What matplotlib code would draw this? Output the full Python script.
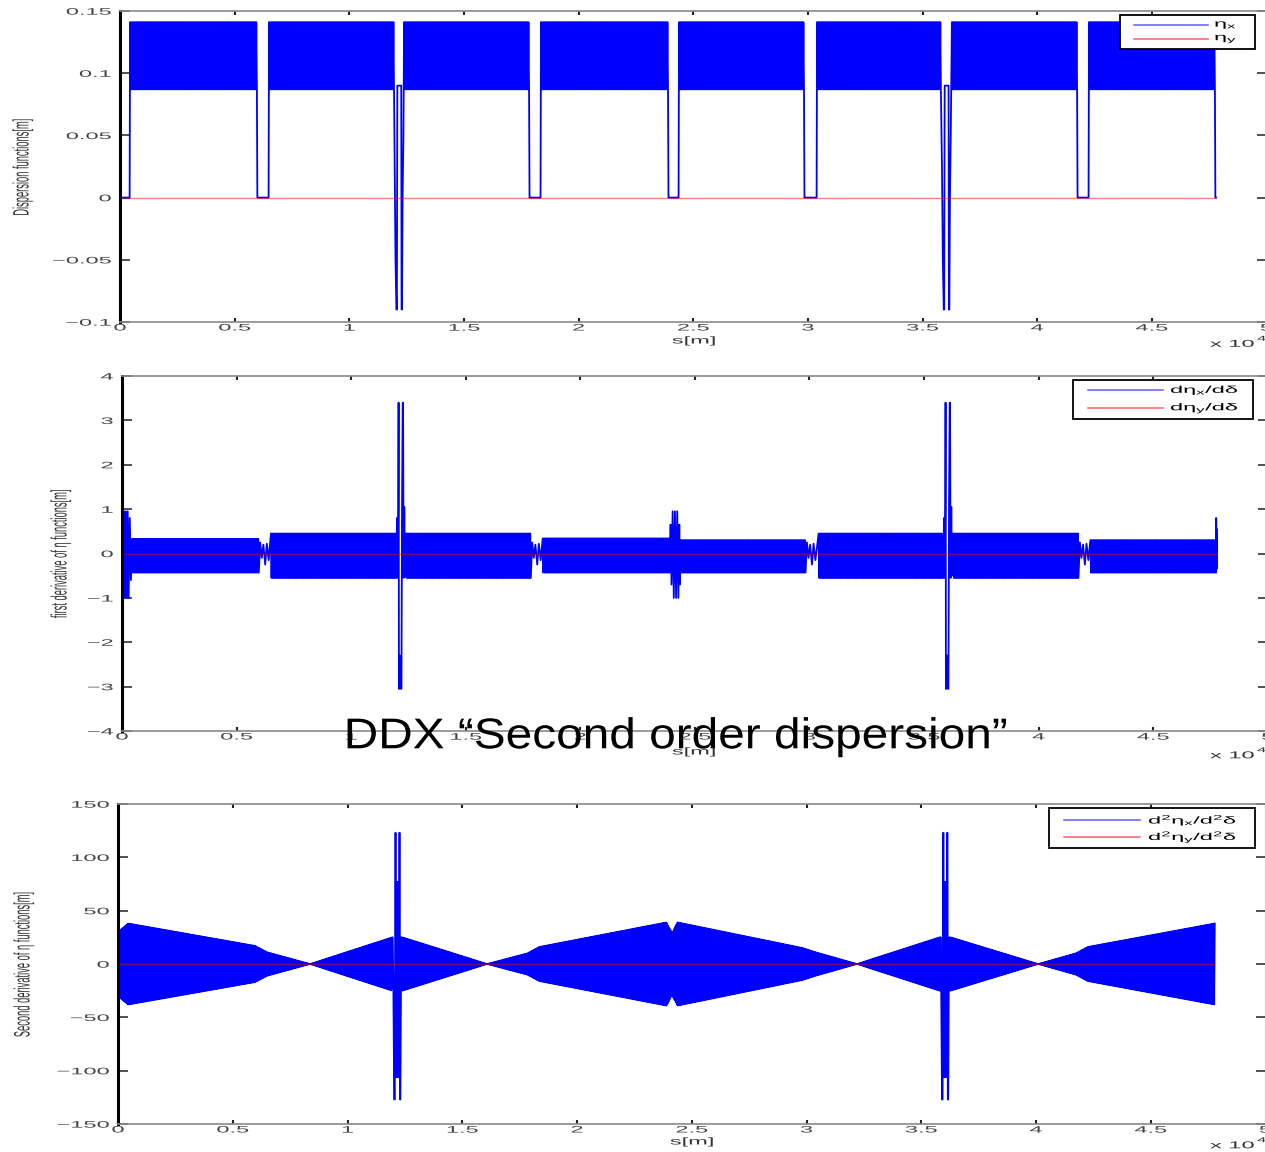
import numpy as np
import matplotlib
matplotlib.use("Agg")
import matplotlib.pyplot as plt
from matplotlib.patheffects import AbstractPathEffect
from matplotlib.transforms import Affine2D
from matplotlib.patches import Rectangle
from matplotlib.lines import Line2D

plt.rcParams["font.family"] = ["Liberation Sans", "DejaVu Sans"]
plt.rcParams["mathtext.fontset"] = "custom"
plt.rcParams["mathtext.rm"] = "Liberation Sans"
plt.rcParams["mathtext.it"] = "Liberation Sans"
plt.rcParams["mathtext.bf"] = "Liberation Sans:bold"
plt.rcParams["mathtext.sf"] = "Liberation Sans"

# ring layout, s in units of 1e4 m
arc_start = [0.044, 0.650, 1.239, 1.836, 2.438, 3.040, 3.628, 4.226]
arc_end = [0.597, 1.195, 1.784, 2.390, 2.983, 3.580, 4.174, 4.775]
straight_kind = ["short", "ir", "short", "rf", "short", "ir", "short"]
s_end = 4.779
cells_per_arc = 108

# eta_x at the F / D quads of an arc cell, and through the IR
eta_cell = [0.141, 0.087]
eta_ir_ds = [-0.019, -0.0155, -0.0115, -0.0095, -0.0075, 0.0095, 0.011, 0.0128, 0.0155, 0.019]
eta_ir = [0.02, -0.05, -0.09, -0.09, 0.09, 0.09, -0.09, -0.09, 0.0, 0.05]

# d eta_x / d delta: cell max / min for each arc
deta_max = [0.33, 0.45, 0.45, 0.34, 0.30, 0.45, 0.45, 0.30]
deta_min = [-0.43, -0.55, -0.55, -0.43, -0.43, -0.55, -0.55, -0.43]
deta_start_ds = [0.001, 0.005, 0.009, 0.013, 0.017, 0.021, 0.025, 0.029, 0.034, 0.039]
deta_start = [0.95, -1.0, 0.95, -1.0, 0.95, -1.0, 0.95, -1.0, 0.8, -0.6]
deta_short_ds = [0.006, 0.013, 0.020, 0.028, 0.035, 0.043]
deta_short = [0.25, -0.1, 0.2, -0.25, 0.22, -0.15]
deta_rf_ds = [0.004, 0.008, 0.013, 0.018, 0.023, 0.028, 0.033, 0.038, 0.042, 0.045]
deta_rf = [0.65, -0.7, 0.95, -1.0, 0.95, -1.0, 0.95, -1.0, 0.65, -0.7]
deta_ir_ds = [-0.020, -0.017, -0.014, -0.0115, -0.0105, -0.0095, -0.0085, -0.0075, -0.004,
              0.0, 0.0025, 0.005, 0.008, 0.0095, 0.012, 0.015, 0.018, 0.020]
deta_ir = [-0.55, 0.8, -0.55, 1.05, 3.4, 3.4, -3.05, -3.05, -2.3,
           -3.05, -3.05, 1.0, 3.4, 3.4, -0.55, 1.05, -0.5, 0.45]
deta_end_ds = [0.0, 0.0015, 0.003, 0.004]
deta_end = [0.8, -0.35, 0.55, 0.2]

# d2 eta_x / d2 delta: envelope of the cell oscillation, and through the IR
env_s = [0.0, 0.044, 0.597, 0.650, 0.837, 1.195, 1.239, 1.608, 1.784, 1.836, 2.390,
         2.414, 2.438, 2.983, 3.040, 3.220, 3.580, 3.628, 4.009, 4.174, 4.226, 4.779]
env_amp = [30, 38, 17, 11, 0, 25, 25, 0, 10, 16, 39,
           29, 39, 15, 11, 0, 25, 25, 0, 10, 16, 38]
ddeta_ir_ds = [-0.020, -0.017, -0.0135, -0.011, -0.0085, -0.007, -0.005, -0.003, -0.001, 0.001,
               0.003, 0.005, 0.007, 0.0088, 0.0104, 0.0118, 0.0135, 0.017, 0.020]
ddeta_ir = [25, -25, -127, -127, 123, 123, -106, 77, -106, 77,
            -106, 77, -106, 123, 123, -127, -127, 25, -25]

xticks = [0, 0.5, 1, 1.5, 2, 2.5, 3, 3.5, 4, 4.5, 5]
xtick_labels = ["0", "0.5", "1", "1.5", "2", "2.5", "3", "3.5", "4", "4.5", "5"]
yticks_eta = [-0.1, -0.05, 0, 0.05, 0.1, 0.15]
ylabels_eta = ["\u22120.1", "\u22120.05", "0", "0.05", "0.1", "0.15"]
yticks_d1 = [-4, -3, -2, -1, 0, 1, 2, 3, 4]
ylabels_d1 = ["\u22124", "\u22123", "\u22122", "\u22121", "0", "1", "2", "3", "4"]
yticks_d2 = [-150, -100, -50, 0, 50, 100, 150]
ylabels_d2 = ["\u2212150", "\u2212100", "\u221250", "0", "50", "100", "150"]


class Squash(AbstractPathEffect):
    """Rescale text outlines about their own bbox (flattened export look)."""

    def __init__(self, sx=1.0, sy=0.4, anchor="center"):
        super().__init__()
        self.sx, self.sy, self.anchor = sx, sy, anchor

    def draw_path(self, renderer, gc, tpath, affine, rgbFace=None):
        bb = tpath.get_extents(affine)
        cx = 0.5 * (bb.x0 + bb.x1)
        cy = bb.y1 if self.anchor == "top" else 0.5 * (bb.y0 + bb.y1)
        tr = affine + Affine2D().translate(-cx, -cy).scale(self.sx, self.sy).translate(cx, cy)
        renderer.draw_path(gc, tpath, tr, rgbFace)


def arc_s(k):
    return np.linspace(arc_start[k], arc_end[k], 2 * cells_per_arc)


def gap_mid(k):
    return 0.5 * (arc_end[k] + arc_start[k + 1])


# eta_x
s1, v1 = [np.array([0.0, arc_start[0] - 0.002])], [np.zeros(2)]
for k in range(len(arc_start)):
    s = arc_s(k)
    s1.append(s)
    v1.append(np.resize(eta_cell, s.size))
    if k < len(straight_kind):
        if straight_kind[k] == "ir":
            s1.append(gap_mid(k) + np.array(eta_ir_ds))
            v1.append(np.array(eta_ir))
        else:
            s1.append(np.array([arc_end[k] + 0.002, arc_start[k + 1] - 0.002]))
            v1.append(np.zeros(2))
s1.append(np.array([arc_end[-1] + 0.002, s_end]))
v1.append(np.zeros(2))
s1, v1 = np.concatenate(s1), np.concatenate(v1)

# d eta_x / d delta
gap_pattern = {"short": (deta_short_ds, deta_short), "rf": (deta_rf_ds, deta_rf)}
s2, v2 = [np.array(deta_start_ds)], [np.array(deta_start)]
for k in range(len(arc_start)):
    s = arc_s(k)
    s2.append(s)
    v2.append(np.resize([deta_max[k], deta_min[k]], s.size))
    if k < len(straight_kind):
        if straight_kind[k] == "ir":
            s2.append(gap_mid(k) + np.array(deta_ir_ds))
            v2.append(np.array(deta_ir))
        else:
            ds, dv = gap_pattern[straight_kind[k]]
            s2.append(arc_end[k] + np.array(ds))
            v2.append(np.array(dv))
s2.append(arc_end[-1] + np.array(deta_end_ds))
v2.append(np.array(deta_end))
s2, v2 = np.concatenate(s2), np.concatenate(v2)

# d2 eta_x / d2 delta
step = (arc_end[0] - arc_start[0]) / (2 * cells_per_arc - 1)
s3 = np.arange(0.0, s_end, step)
v3 = np.interp(s3, env_s, env_amp) * np.resize([1, -1], s3.size)
ir_mid = [gap_mid(k) for k, kind in enumerate(straight_kind) if kind == "ir"]
keep = np.ones(s3.size, bool)
for c in ir_mid:
    keep &= np.abs(s3 - c) > 0.021
s3, v3 = [s3[keep]], [v3[keep]]
for c in ir_mid:
    s3.append(c + np.array(ddeta_ir_ds))
    v3.append(np.array(ddeta_ir, float))
s3, v3 = np.concatenate(s3), np.concatenate(v3)
order = np.argsort(s3, kind="stable")
s3, v3 = s3[order], v3[order]

W, H = 1265, 1152
fig = plt.figure(figsize=(W / 100, H / 100), dpi=100)


def fx(x):
    return x / W


def fy(y):
    return 1 - y / H


def make_axes(left, top, bottom, width):
    return fig.add_axes([fx(left), fy(bottom), width / W, (bottom - top) / H])


def style(ax, ylim, yticks, ylabels):
    ax.set_xlim(0, 5)
    ax.set_ylim(*ylim)
    ax.set_xticks(xticks, xtick_labels)
    ax.set_yticks(yticks, ylabels)
    ax.tick_params(axis="x", direction="in", length=3, width=1.5, color="#222222",
                   labelcolor="#444444", labelsize=17, pad=1, top=True)
    ax.tick_params(axis="y", direction="in", length=7, width=1.2, color="#333333",
                   labelcolor="#444444", labelsize=17, pad=6, right=True)
    for side in ("left", "right"):
        ax.spines[side].set_linewidth(2.2)
        ax.spines[side].set_color("black")
    for side in ("top", "bottom"):
        ax.spines[side].set_linewidth(1.2)
        ax.spines[side].set_color("#8a8a8a")
    for t in ax.get_xticklabels():
        t.set_path_effects([Squash(anchor="top")])
    for t in ax.get_yticklabels():
        t.set_path_effects([Squash()])


def flat_text(x, y, s, size=17, **kw):
    kw.setdefault("color", "#333333")
    return fig.text(fx(x), fy(y), s, fontsize=size, path_effects=[Squash(sy=0.42)], **kw)


def legend(box, rows, x_line, x_text, labels):
    x0, y0, x1, y1 = box
    fig.add_artist(Rectangle((fx(x0), fy(y1)), (x1 - x0) / W, (y1 - y0) / H,
                             transform=fig.transFigure, facecolor="white",
                             edgecolor="black", linewidth=1.3))
    for y, c, lab in zip(rows, ("#5f5fff", "#ff6060"), labels):
        fig.add_artist(Line2D([fx(x_line[0]), fx(x_line[1])], [fy(y), fy(y)],
                              transform=fig.transFigure, color=c, lw=1.1))
        flat_text(x_text, y, lab, ha="left", va="center", color="black")


ax1 = make_axes(120, 11, 322, 1146.5)
ax1.plot(s1, v1, color="blue", lw=1.3)
ax1.plot([0, s_end], [0, 0], color="red", lw=1.0, alpha=0.5)
style(ax1, (-0.1, 0.15), yticks_eta, ylabels_eta)

ax2 = make_axes(122, 376, 731, 1145.75)
ax2.plot(s2, v2, color="blue", lw=1.3)
ax2.plot([0, s_end], [0, 0], color="red", lw=1.0, alpha=0.5)
style(ax2, (-4, 4), yticks_d1, ylabels_d1)

ax3 = make_axes(118, 804, 1124, 1147.5)
ax3.plot(s3, v3, color="blue", lw=1.3)
ax3.plot([0, s_end], [0, 0], color="red", lw=1.0, alpha=0.5)
style(ax3, (-150, 150), yticks_d2, ylabels_d2)

# axis titles
flat_text(23, 167, "Dispersion functions[m]", size=16, rotation=90, ha="center", va="center")
flat_text(61, 553, "first derivative of \u03b7 functions[m]", size=16, rotation=90,
          ha="center", va="center")
flat_text(24, 964, "Second derivative of \u03b7 functions[m]", size=16, rotation=90,
          ha="center", va="center")
for y, xc in ((341, 694), (752, 694), (1142, 692)):
    flat_text(xc, y, "s[m]", ha="center", va="center")
for y in (345.5, 757, 1147):
    flat_text(1210, y, "x 10", ha="left", va="center")
    flat_text(1257, y - 6, "4", size=12, ha="left", va="center")

legend((1120, 15, 1255, 49), (25, 39), (1134, 1208), 1214,
       [r"$\eta_x$", r"$\eta_y$"])
legend((1073, 380, 1253, 419), (390, 408), (1088, 1163), 1170,
       [r"$\mathrm{d}\eta_x/\mathrm{d}\delta$", r"$\mathrm{d}\eta_y/\mathrm{d}\delta$"])
legend((1049, 808, 1255, 848), (820, 837), (1064, 1140), 1148,
       [r"$\mathrm{d}^2\eta_x/\mathrm{d}^2\delta$", r"$\mathrm{d}^2\eta_y/\mathrm{d}^2\delta$"])

fig.text(fx(675.5), fy(748.3), "DDX \u201cSecond order dispersion\u201d", fontsize=31,
         ha="center", va="baseline", color="black",
         path_effects=[Squash(sx=1.11, sy=1.0)])

fig.savefig("out.png", dpi=100)
